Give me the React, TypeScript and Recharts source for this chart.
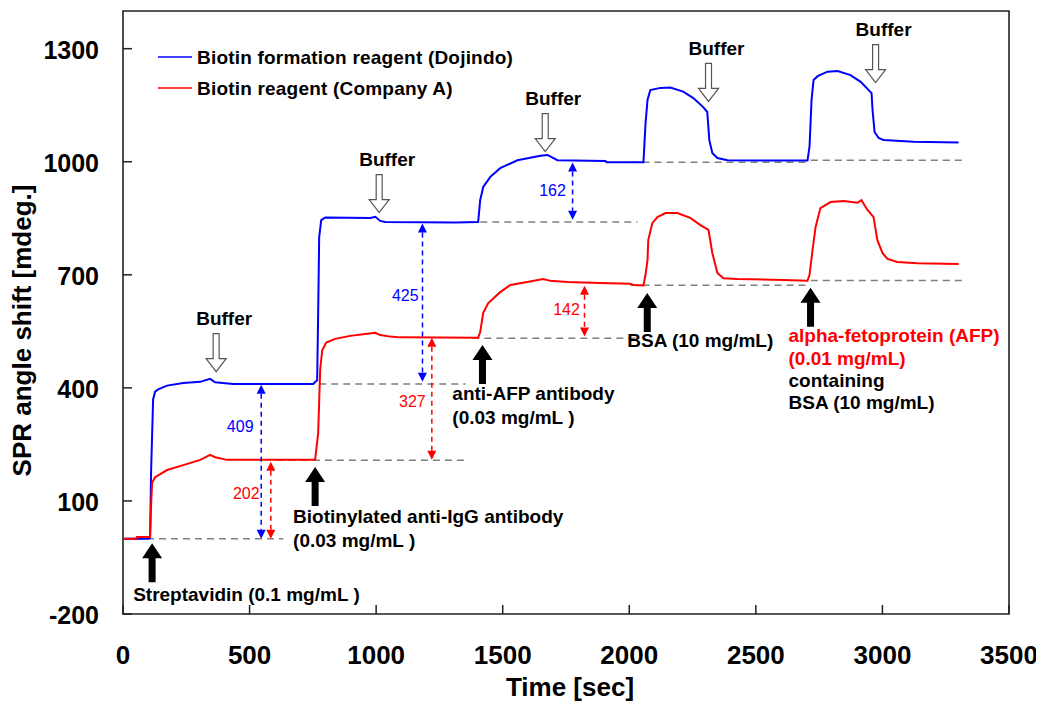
import React from 'react';
import { LineChart, Line, XAxis, YAxis, ReferenceLine, ReferenceDot, ReferenceArea, Legend } from 'recharts';

const FONT = "'Liberation Sans', Arial, Helvetica, sans-serif";

const xTicks = [0, 500, 1000, 1500, 2000, 2500, 3000, 3500];
const yTicks = [-200, 100, 400, 700, 1000, 1300];

const seriesNames = ['Biotin formation reagent (Dojindo)', 'Biotin reagent (Company A)'];

// Blue: Biotin formation reagent (Dojindo)
const blueSeries = [
  { t: 0, v: 0 }, { t: 100, v: 0 }, { t: 107, v: 2 }, { t: 111, v: 180 }, { t: 119, v: 370 },
  { t: 127, v: 390 }, { t: 139, v: 396 }, { t: 174, v: 406 }, { t: 238, v: 413 }, { t: 305, v: 416 },
  { t: 344, v: 424 }, { t: 364, v: 415 }, { t: 435, v: 410 }, { t: 751, v: 410 }, { t: 767, v: 420 },
  { t: 771, v: 600 }, { t: 775, v: 800 }, { t: 783, v: 845 }, { t: 799, v: 852 }, { t: 977, v: 851 },
  { t: 997, v: 854 }, { t: 1016, v: 843 }, { t: 1036, v: 840 }, { t: 1313, v: 839 }, { t: 1403, v: 840 },
  { t: 1411, v: 898 }, { t: 1423, v: 933 }, { t: 1451, v: 960 }, { t: 1490, v: 983 }, { t: 1558, v: 1004 },
  { t: 1649, v: 1016 }, { t: 1677, v: 1018 }, { t: 1716, v: 1004 }, { t: 1906, v: 1002 }, { t: 1910, v: 999 },
  { t: 2056, v: 999 }, { t: 2064, v: 1100 }, { t: 2072, v: 1164 }, { t: 2083, v: 1190 }, { t: 2123, v: 1196 },
  { t: 2162, v: 1197 }, { t: 2213, v: 1186 }, { t: 2253, v: 1169 }, { t: 2292, v: 1145 }, { t: 2308, v: 1132 },
  { t: 2316, v: 1058 }, { t: 2328, v: 1023 }, { t: 2348, v: 1010 }, { t: 2388, v: 1004 }, { t: 2704, v: 1003 },
  { t: 2712, v: 1040 }, { t: 2720, v: 1164 }, { t: 2728, v: 1217 }, { t: 2744, v: 1227 }, { t: 2783, v: 1239 },
  { t: 2823, v: 1241 }, { t: 2874, v: 1230 }, { t: 2914, v: 1212 }, { t: 2957, v: 1182 }, { t: 2961, v: 1137 },
  { t: 2969, v: 1079 }, { t: 2985, v: 1063 }, { t: 3004, v: 1058 }, { t: 3123, v: 1053 }, { t: 3301, v: 1051 },
];

// Red: Biotin reagent (Company A)
const redSeries = [
  { t: 0, v: 0 }, { t: 52, v: 0 }, { t: 55, v: 4 }, { t: 107, v: 4 }, { t: 111, v: 90 },
  { t: 115, v: 148 }, { t: 127, v: 163 }, { t: 174, v: 182 }, { t: 238, v: 195 }, { t: 305, v: 209 },
  { t: 344, v: 222 }, { t: 364, v: 216 }, { t: 411, v: 209 }, { t: 759, v: 209 }, { t: 771, v: 280 },
  { t: 779, v: 450 }, { t: 787, v: 500 }, { t: 803, v: 520 }, { t: 838, v: 530 }, { t: 897, v: 538 },
  { t: 957, v: 543 }, { t: 997, v: 546 }, { t: 1016, v: 540 }, { t: 1056, v: 536 }, { t: 1095, v: 534 },
  { t: 1403, v: 533 }, { t: 1411, v: 548 }, { t: 1423, v: 599 }, { t: 1443, v: 625 }, { t: 1490, v: 654 },
  { t: 1530, v: 673 }, { t: 1597, v: 681 }, { t: 1660, v: 689 }, { t: 1688, v: 684 }, { t: 1755, v: 681 },
  { t: 1886, v: 678 }, { t: 2004, v: 676 }, { t: 2016, v: 673 }, { t: 2056, v: 672 }, { t: 2064, v: 700 },
  { t: 2072, v: 739 }, { t: 2075, v: 792 }, { t: 2091, v: 837 }, { t: 2111, v: 853 }, { t: 2143, v: 864 },
  { t: 2190, v: 864 }, { t: 2241, v: 851 }, { t: 2281, v: 832 }, { t: 2313, v: 819 }, { t: 2328, v: 758 },
  { t: 2348, v: 705 }, { t: 2372, v: 691 }, { t: 2427, v: 689 }, { t: 2609, v: 686 }, { t: 2704, v: 684 },
  { t: 2712, v: 700 }, { t: 2724, v: 766 }, { t: 2736, v: 827 }, { t: 2755, v: 877 }, { t: 2795, v: 893 },
  { t: 2846, v: 896 }, { t: 2902, v: 891 }, { t: 2917, v: 898 }, { t: 2941, v: 872 }, { t: 2965, v: 853 },
  { t: 2980, v: 792 }, { t: 3000, v: 758 }, { t: 3020, v: 742 }, { t: 3059, v: 734 }, { t: 3138, v: 731 },
  { t: 3301, v: 729 },
];

// gray dashed baselines (time from, time to, level)
const baselines = [
  { x1: 0, x2: 633, y: 0 },
  { x1: 608, x2: 1361, y: 208 },
  { x1: 728, x2: 1353, y: 410 },
  { x1: 1364, x2: 2032, y: 840 },
  { x1: 1380, x2: 2030, y: 532 },
  { x1: 2005, x2: 2717, y: 999 },
  { x1: 2717, x2: 3317, y: 1004 },
  { x1: 2005, x2: 2717, y: 672 },
  { x1: 2717, x2: 3317, y: 685 },
];

// shift measurements (double arrows)
const shifts = [
  { t: 546, top: 408, bottom: 0, label: '409', lt: 463, lv: 297, color: '#0000ff' },
  { t: 584, top: 204, bottom: 0, label: '202', lt: 487, lv: 119, color: '#ff0000' },
  { t: 1183, top: 836, bottom: 416, label: '425', lt: 1115, lv: 644, color: '#0000ff' },
  { t: 1220, top: 533, bottom: 209, label: '327', lt: 1143, lv: 363, color: '#ff0000' },
  { t: 1776, top: 998, bottom: 846, label: '162', lt: 1697, lv: 923, color: '#0000ff' },
  { t: 1823, top: 671, bottom: 536, label: '142', lt: 1752, lv: 607, color: '#ff0000' },
];

// buffer injections (arrow tip)
const buffers = [
  { t: 368, v: 443 },
  { t: 1012, v: 865 },
  { t: 1668, v: 1027 },
  { t: 2313, v: 1160 },
  { t: 2973, v: 1210 },
];

// sample injections (black arrow tip)
const injections = [
  { t: 115, v: -12 },
  { t: 759, v: 190 },
  { t: 1420, v: 514 },
  { t: 2071, v: 652 },
  { t: 2716, v: 666 },
];

// injection notes (left start, first line)
const notes = [
  { t: 40, v: -147, gap: 23, lines: [{ text: 'Streptavidin (0.1 mg/mL )', color: '#000' }] },
  { t: 672, v: 60, gap: 24, lines: [{ text: 'Biotinylated anti-IgG antibody', color: '#000' }, { text: '(0.03 mg/mL )', color: '#000' }] },
  { t: 1301, v: 384, gap: 24, lines: [{ text: 'anti-AFP antibody', color: '#000' }, { text: '(0.03 mg/mL )', color: '#000' }] },
  { t: 1992, v: 525, gap: 23, lines: [{ text: 'BSA (10 mg/mL)', color: '#000' }] },
  {
    t: 2629, v: 538, gap: 22.3, lines: [
      { text: 'alpha-fetoprotein (AFP)', color: '#ff0000' },
      { text: '(0.01 mg/mL)', color: '#ff0000' },
      { text: 'containing', color: '#000' },
      { text: 'BSA (10 mg/mL)', color: '#000' },
    ],
  },
];

const YTick = (p: any) => (
  <g>
    <line x1={p.x} x2={p.x + 9} y1={p.y} y2={p.y} stroke="#222" strokeWidth={1.5} />
    <text x={p.x - 24} y={p.y + 10} textAnchor="end" fontSize={25} fontWeight="bold" fontFamily={FONT} fill="#000">
      {p.payload.value}
    </text>
  </g>
);

const XTick = (p: any) => (
  <g>
    <line x1={p.x} x2={p.x} y1={p.y} y2={p.y - 9} stroke="#222" strokeWidth={1.5} />
    <text x={p.x} y={p.y + 50} textAnchor="middle" fontSize={26} fontWeight="bold" fontFamily={FONT} fill="#000">
      {p.payload.value}
    </text>
  </g>
);

const makeDim = (color: string) => (p: any) => {
  const x = p.x1;
  const top = Math.min(p.y1, p.y2);
  const bot = Math.max(p.y1, p.y2);
  const hw = 4.5;
  const hh = 9;
  return (
    <g>
      <line x1={x} x2={x} y1={top + hh} y2={bot - hh} stroke={color} strokeWidth={1.5} strokeDasharray="5 4" />
      <path d={`M${x},${top} L${x + hw},${top + hh} L${x - hw},${top + hh} Z`} fill={color} />
      <path d={`M${x},${bot} L${x + hw},${bot - hh} L${x - hw},${bot - hh} Z`} fill={color} />
    </g>
  );
};

const BufferMark = (p: any) => {
  const cx = p.cx;
  const cy = p.cy;
  const d = `M${cx - 3},${cy - 38} L${cx + 3},${cy - 38} L${cx + 3},${cy - 13} L${cx + 10},${cy - 13} L${cx},${cy} L${cx - 10},${cy - 13} L${cx - 3},${cy - 13} Z`;
  return (
    <g>
      <path d={d} fill="#fff" stroke="#555" strokeWidth={1.2} />
      <text x={cx + 8} y={cy - 53} textAnchor="middle" dominantBaseline="central" fontSize={19} fontWeight="bold" fontFamily={FONT} fill="#000">
        Buffer
      </text>
    </g>
  );
};

const InjectMark = (p: any) => {
  const cx = p.cx;
  const cy = p.cy;
  const d = `M${cx},${cy} L${cx + 10},${cy + 15} L${cx + 3.5},${cy + 15} L${cx + 3.5},${cy + 39} L${cx - 3.5},${cy + 39} L${cx - 3.5},${cy + 15} L${cx - 10},${cy + 15} Z`;
  return <path d={d} fill="#000" />;
};

const makeNote = (note: any) => (p: any) => (
  <g>
    {note.lines.map((ln: any, i: number) => (
      <text key={i} x={p.cx} y={p.cy + i * note.gap} dominantBaseline="central" fontSize={19} fontWeight="bold" fontFamily={FONT} fill={ln.color}>
        {ln.text}
      </text>
    ))}
  </g>
);

const makeShiftLabel = (s: any) => (p: any) => (
  <text x={p.cx} y={p.cy} textAnchor="middle" dominantBaseline="central" fontSize={16} fontFamily={FONT} fill={s.color}>
    {s.label}
  </text>
);

const LegendBox = () => (
  <svg width={420} height={70} style={{ display: 'block' }}>
    <line x1={10} x2={44} y1={19} y2={19} stroke="#0000ff" strokeWidth={1.5} />
    <text x={49} y={19} dominantBaseline="central" fontSize={19} fontWeight="bold" fontFamily={FONT} letterSpacing={0.2} fill="#000">
      {seriesNames[0]}
    </text>
    <line x1={10} x2={44} y1={50} y2={50} stroke="#ff0000" strokeWidth={1.5} />
    <text x={49} y={50} dominantBaseline="central" fontSize={19} fontWeight="bold" fontFamily={FONT} letterSpacing={0.2} fill="#000">
      {seriesNames[1]}
    </text>
  </svg>
);

export default function App() {
  return (
    <div style={{ width: 1036, height: 697 }}>
      <LineChart width={1036} height={697} margin={{ top: 3, right: 35, bottom: 31, left: 8 }}>
        <XAxis
          dataKey="t"
          type="number"
          domain={[0, 3500]}
          ticks={xTicks}
          interval={0}
          axisLine={false}
          tickLine={false}
          tickSize={0}
          tickMargin={0}
          height={60}
          tick={XTick}
          label={{
            content: (props: any) => {
              const vb = props.viewBox || { x: 115, y: 606, width: 886, height: 60 };
              return (
                <text x={vb.x + vb.width / 2 + 4} y={vb.y + 82} textAnchor="middle" fontSize={26} fontWeight="bold" fontFamily={FONT} fill="#000">
                  Time [sec]
                </text>
              );
            },
          }}
        />
        <YAxis
          type="number"
          domain={[-200, 1400]}
          ticks={yTicks}
          interval={0}
          axisLine={false}
          tickLine={false}
          tickSize={0}
          tickMargin={0}
          width={107}
          tick={YTick}
          label={{
            content: (props: any) => {
              const vb = props.viewBox || { x: 8, y: 3, width: 107, height: 603 };
              const cx = vb.x + 15;
              const cy = vb.y + vb.height / 2 + 18;
              return (
                <text x={cx} y={cy} transform={`rotate(-90 ${cx} ${cy})`} textAnchor="middle" fontSize={26} fontWeight="bold" fontFamily={FONT} fill="#000">
                  SPR angle shift [mdeg.]
                </text>
              );
            },
          }}
        />
        <ReferenceArea x1={0} x2={3500} y1={-200} y2={1400} fill="none" stroke="#222" strokeWidth={1.6} ifOverflow="visible" />
        {baselines.map((b, i) => (
          <ReferenceLine
            key={`b${i}`}
            segment={[{ x: b.x1, y: b.y }, { x: b.x2, y: b.y }]}
            stroke="#808080"
            strokeWidth={1.5}
            strokeDasharray="7 5"
            ifOverflow="visible"
          />
        ))}
        <Line data={blueSeries} dataKey="v" name={seriesNames[0]} stroke="#0000ff" strokeWidth={2} dot={false} activeDot={false} isAnimationActive={false} type="linear" />
        <Line data={redSeries} dataKey="v" name={seriesNames[1]} stroke="#ff0000" strokeWidth={2} dot={false} activeDot={false} isAnimationActive={false} type="linear" />
        {shifts.map((s, i) => (
          <ReferenceLine
            key={`s${i}`}
            segment={[{ x: s.t, y: s.top }, { x: s.t, y: s.bottom }]}
            stroke={s.color}
            shape={makeDim(s.color)}
            ifOverflow="visible"
          />
        ))}
        {shifts.map((s, i) => (
          <ReferenceDot key={`sl${i}`} x={s.lt} y={s.lv} r={1} shape={makeShiftLabel(s)} ifOverflow="visible" />
        ))}
        {buffers.map((b, i) => (
          <ReferenceDot key={`bf${i}`} x={b.t} y={b.v} r={1} shape={BufferMark} ifOverflow="visible" />
        ))}
        {injections.map((b, i) => (
          <ReferenceDot key={`in${i}`} x={b.t} y={b.v} r={1} shape={InjectMark} ifOverflow="visible" />
        ))}
        {notes.map((n, i) => (
          <ReferenceDot key={`n${i}`} x={n.t} y={n.v} r={1} shape={makeNote(n)} ifOverflow="visible" />
        ))}
        <Legend
          layout="horizontal"
          verticalAlign="middle"
          align="center"
          wrapperStyle={{ left: 140, top: 30, width: 420, height: 70 }}
          content={() => <LegendBox />}
        />
      </LineChart>
    </div>
  );
}
